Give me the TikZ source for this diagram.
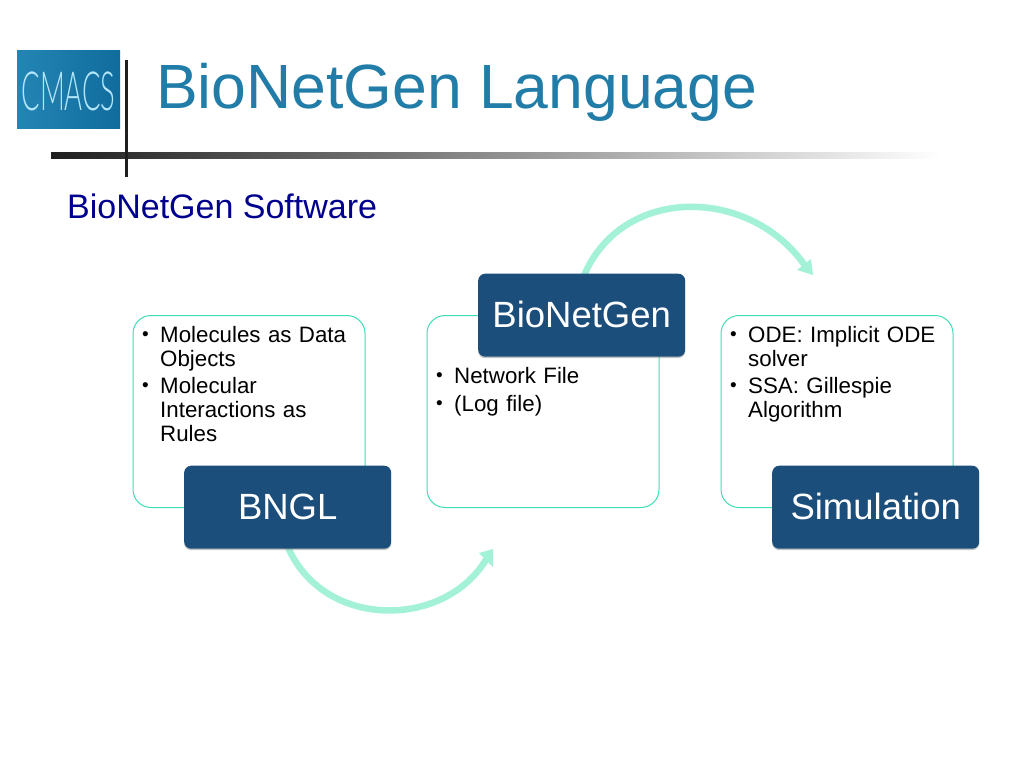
\documentclass[tikz,border=0pt]{standalone}
\usepackage{fontspec}
\setmainfont{Liberation Sans}
\newfontfamily\logofont{Lato Light}
\usetikzlibrary{shadows,arrows.meta,positioning}
\definecolor{titleblue}{HTML}{217DA8}
\definecolor{subblue}{HTML}{00008F}
\definecolor{navy}{HTML}{1C4E7C}
\definecolor{mint}{HTML}{A3F2D8}
\definecolor{edge}{HTML}{3FDDB4}
\definecolor{logoa}{HTML}{2485B5}
\definecolor{logob}{HTML}{106C9C}
\newcommand{\listfont}{\fontsize{22.3}{24}\selectfont}
\newcommand{\headtext}[1]{\raisebox{1.5pt}{#1}}
\tikzset{
  panel/.style={draw=edge,line width=1pt,fill=white,rounded corners=18pt,minimum width=232pt,minimum height=192pt,anchor=north west},
  head/.style={fill=navy,rounded corners=7pt,minimum width=207pt,minimum height=83pt,anchor=north west,text=white,font=\fontsize{36.5}{40}\selectfont,
    drop shadow={shadow xshift=0pt,shadow yshift=-1.5pt,fill=black!45,opacity=.5}},
  itemtext/.style={anchor=north west,inner sep=0pt,text width=#1,align=left,font=\listfont},
  bulletmark/.style={anchor=north west,inner sep=0pt,font=\fontsize{19}{24}\selectfont},
  curve/.style={draw=mint,line width=6.5pt},
  curvetip/.style={fill=mint,draw=none}
}
\begin{document}
\begin{tikzpicture}[x=1pt,y=-1pt]
\useasboundingbox (0,0) rectangle (1024,768);
\fill[white] (0,0) rectangle (1024,768);
% logo
\shade[left color=logoa,right color=logob] (17,51) rectangle (120,128);
\node[inner sep=0pt,text=cyan!30!white] (logo) at (68.5,91) {\scalebox{0.76}[1.5]{\fontsize{36}{36}\logofont CMACS}};
% rules
\shade[left color=black!88,right color=white] (51,152) rectangle (940,158.5);
\fill[black!88] (124.5,60) rectangle (127.5,177);
% titles
\node[anchor=base west,inner sep=0pt,text=titleblue,font=\fontsize{62.5}{70}\selectfont] (title) at (156,108) {BioNetGen Language};
\node[anchor=base west,inner sep=0pt,text=subblue,font=\fontsize{34}{36}\selectfont] (sub) at (67,218) {BioNetGen Software};
% panels
\node[panel] (p1) at (132.5,315) {};
\node[panel] (p2) at (426.5,315) {};
\node[panel] (p3) at (720.5,315) {};
% curved arrows (behind the heads)
\coordinate (a1s) at (287,545);
\coordinate (a1e) at (487,558);
\coordinate (a1t) at (493,549);
\coordinate (a2s) at (583,278);
\coordinate (a2e) at (806,267);
\coordinate (a2t) at (813,275);
\draw[curve] (a1s) .. controls (322,630) and (445,630) .. (a1e);
\fill[curvetip] (a1t) -- (479,553) -- (493,567) -- cycle;
\draw[curve] (a2s) .. controls (620,185) and (750,185) .. (a2e);
\fill[curvetip] (a2t) -- (797,270) -- (811,259) -- cycle;
% heads
\node[head] (h1) at (184,465.5) {\headtext{BNGL}};
\node[head] (h2) at (478,273.5) {\headtext{BioNetGen}};
\node[head] (h3) at (772,465.5) {\headtext{Simulation}};
% lists
\node[bulletmark] (b11) at (142,331) {•};
\node[itemtext=200pt] (t11) at (160,326) {Molecules as Data\\Objects};
\node[bulletmark] (b12) at (142,382) {•};
\node[itemtext=200pt] (t12) at (160,377) {Molecular\\Interactions as\\Rules};
\node[bulletmark] (b21) at (436,372) {•};
\node[itemtext=200pt] (t21) at (454,367) {Network File};
\node[bulletmark] (b22) at (436,400) {•};
\node[itemtext=200pt] (t22) at (454,395) {(Log file)};
\node[bulletmark] (b31) at (730,331) {•};
\node[itemtext=200pt] (t31) at (748,326) {ODE: Implicit ODE\\solver};
\node[bulletmark] (b32) at (730,382) {•};
\node[itemtext=200pt] (t32) at (748,377) {SSA: Gillespie\\Algorithm};
\end{tikzpicture}
\end{document}
